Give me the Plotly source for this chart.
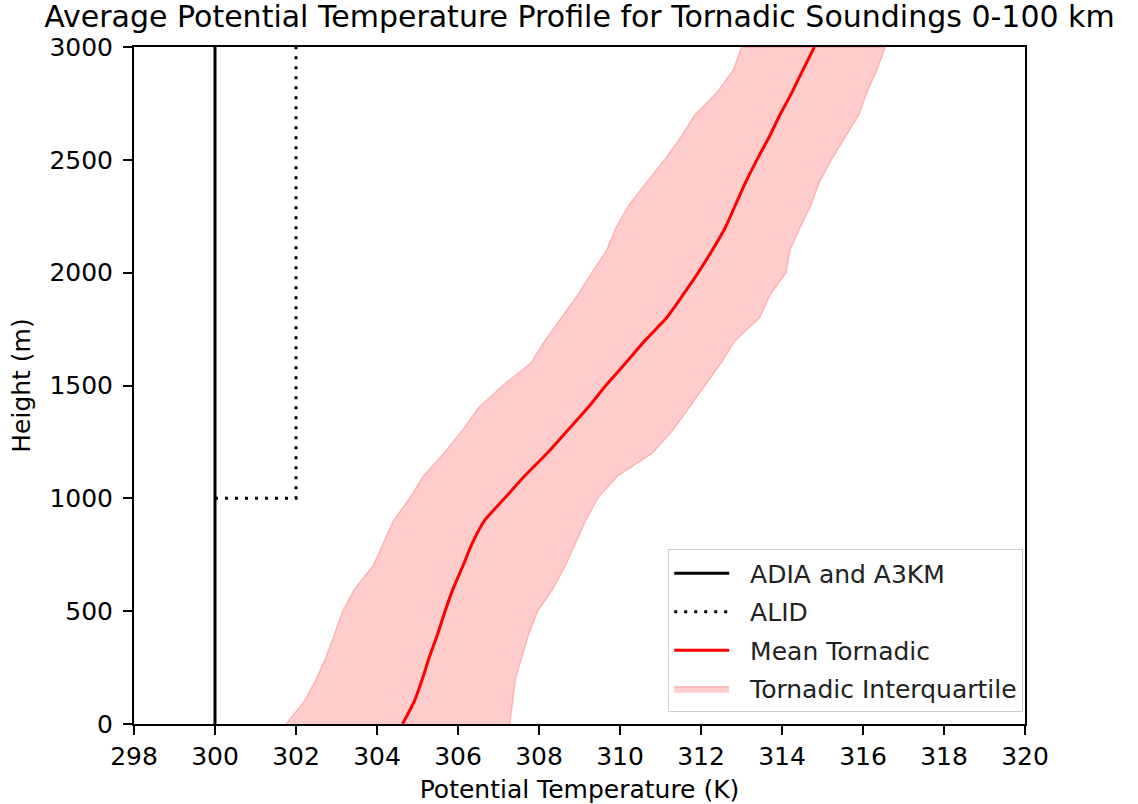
import plotly.graph_objects as go

# Heights (m) of the averaged sounding levels
heights = [0, 100, 200, 300, 400, 500, 600, 700, 800, 900, 1000,
           1100, 1200, 1300, 1400, 1500, 1600, 1700, 1800, 1900, 2000,
           2100, 2200, 2300, 2400, 2500, 2600, 2700, 2800, 2900, 3000]

# Mean potential temperature (K) of tornadic soundings
theta_mean = [304.63, 304.92, 305.12, 305.3, 305.5, 305.68, 305.88, 306.12, 306.35, 306.65, 307.15,
              307.65, 308.2, 308.7, 309.2, 309.65, 310.14, 310.62, 311.15, 311.55, 311.93,
              312.28, 312.6, 312.85, 313.1, 313.38, 313.68, 313.95, 314.25, 314.52, 314.8]

# 25th percentile (K)
theta_q25 = [301.75, 302.2, 302.5, 302.75, 302.95, 303.15, 303.45, 303.9, 304.15, 304.4, 304.8,
             305.15, 305.65, 306.1, 306.5, 307.1, 307.8, 308.15, 308.55, 308.95, 309.3,
             309.67, 309.9, 310.22, 310.65, 311.1, 311.5, 311.85, 312.4, 312.8, 313.0]

# 75th percentile (K)
theta_q75 = [307.28, 307.35, 307.42, 307.58, 307.75, 307.97, 308.35, 308.65, 308.9, 309.15, 309.45,
             309.95, 310.8, 311.3, 311.7, 312.1, 312.5, 312.85, 313.45, 313.7, 314.1,
             314.2, 314.45, 314.72, 314.92, 315.22, 315.55, 315.9, 316.1, 316.35, 316.55]

# Idealized profiles
adia_x = [300, 300]
adia_y = [0, 3000]
alid_x = [300, 302, 302]
alid_y = [1000, 1000, 3000]

x_ticks = list(range(298, 321, 2))
y_ticks = list(range(0, 3001, 500))

font_family = "DejaVu Sans"
tick_size = 25
gap = "\u00a0\u00a0"  # spacing between legend handle and label

fig = go.Figure()

fig.add_trace(go.Scatter(
    x=adia_x, y=adia_y, mode="lines", name=gap + "ADIA and A3KM",
    line=dict(color="black", width=3), legendgroup="g1", legendrank=1,
))
fig.add_trace(go.Scatter(
    x=alid_x, y=alid_y, mode="lines", name=gap + "ALID",
    line=dict(color="black", width=3, dash="3px,7px"), legendgroup="g2", legendrank=2,
))
fig.add_trace(go.Scatter(
    x=theta_q25 + theta_q75[::-1], y=heights + heights[::-1],
    mode="lines", fill="toself", fillcolor="rgba(255,0,0,0.2)",
    line=dict(color="rgba(255,0,0,0.2)", width=1.5),
    name=gap + "Tornadic Interquartile", legendgroup="g4", legendrank=4,
))
fig.add_trace(go.Scatter(
    x=theta_mean, y=heights, mode="lines", name=gap + "Mean Tornadic",
    line=dict(color="red", width=3, shape="spline", smoothing=0.6),
    legendgroup="g3", legendrank=3,
))

fig.update_layout(
    width=1138, height=804,
    margin=dict(l=134, r=113, t=47, b=80),
    paper_bgcolor="white", plot_bgcolor="white",
    font=dict(family=font_family, size=tick_size, color="black"),
    title=dict(
        text="Average Potential Temperature Profile for Tornadic Soundings 0-100 km",
        font=dict(family=font_family, size=30, color="black"),
        xref="paper", x=0.5, xanchor="center",
        yref="container", y=1 - 16 / 804, yanchor="middle",
    ),
    showlegend=True,
    legend=dict(
        x=0.998, y=0.017, xanchor="right", yanchor="bottom",
        bgcolor="rgba(255,255,255,0.8)", bordercolor="#cccccc", borderwidth=1,
        font=dict(family=font_family, size=tick_size, color="#222222"),
        itemwidth=55, tracegroupgap=3, traceorder="grouped",
    ),
)

fig.update_xaxes(
    range=[298, 320], tickvals=x_ticks, ticktext=[str(v) for v in x_ticks],
    showgrid=False, zeroline=False, automargin=False,
    showline=True, linecolor="black", linewidth=2, mirror=True,
    ticks="outside", ticklen=9, tickwidth=2, tickcolor="black",
    tickfont=dict(size=tick_size),
    title=dict(text="Potential Temperature (K)", font=dict(size=tick_size), standoff=12),
)
fig.update_yaxes(
    range=[0, 3000], tickvals=y_ticks, ticktext=[str(v) for v in y_ticks],
    showgrid=False, zeroline=False, automargin=False,
    showline=True, linecolor="black", linewidth=2, mirror=True,
    ticks="outside", ticklen=9, tickwidth=2, tickcolor="black",
    ticklabelstandoff=5,
    tickfont=dict(size=tick_size),
    title=dict(text="Height (m)", font=dict(size=tick_size), standoff=12),
)

fig.write_html("out.html")
